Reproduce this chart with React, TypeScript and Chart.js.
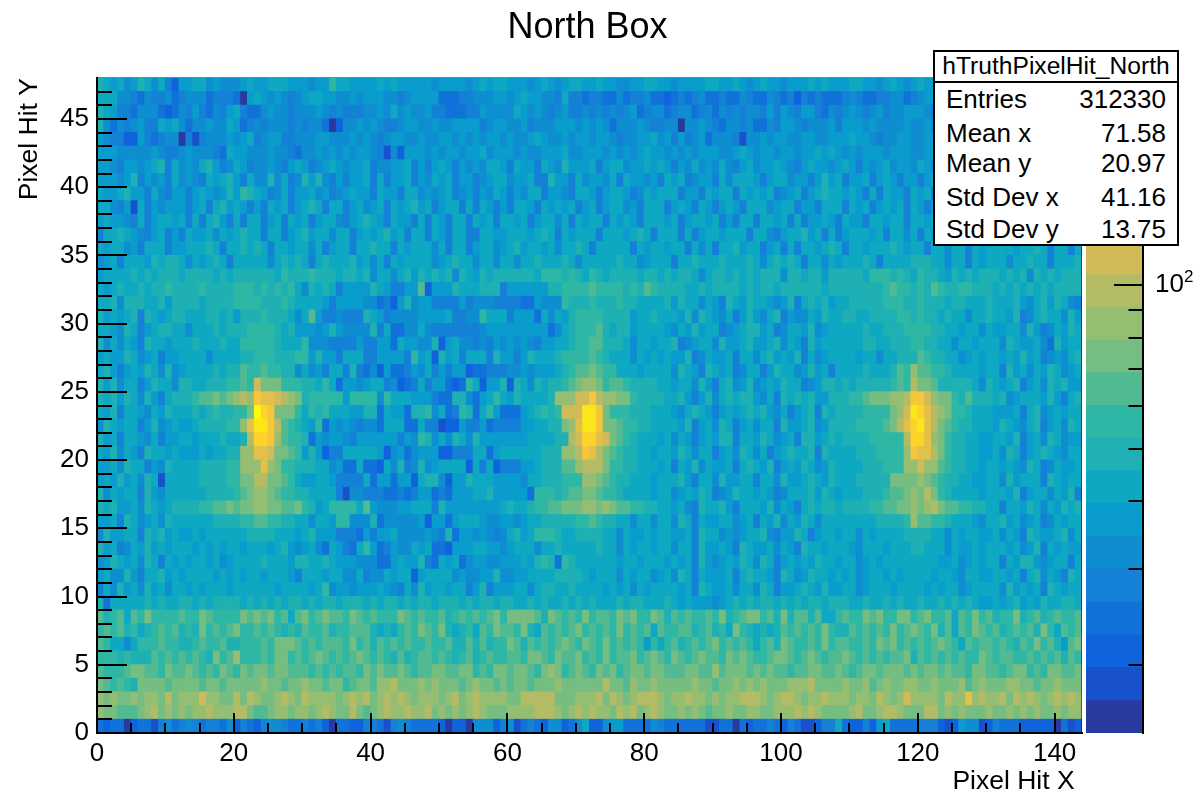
import React, { useEffect, useRef } from "react";
import { Chart, registerables } from "chart.js";

Chart.register(...registerables);

const FONT = '"Liberation Sans", Arial, sans-serif';

const titleText = "North Box";
const xTitle = "Pixel Hit X ";
const yTitle = "Pixel Hit Y";
const xMinorTicks = [5, 10, 15, 25, 30, 35, 45, 50, 55, 65, 70, 75, 85, 90, 95, 105, 110, 115, 125, 130, 135];
const xMajorTicks = [20, 40, 60, 80, 100, 120, 140];
const yMajorTicks = [5, 10, 15, 20, 25, 30, 35, 40, 45];
const yMinorTicks = [1, 2, 3, 4, 6, 7, 8, 9, 11, 12, 13, 14, 16, 17, 18, 19, 21, 22, 23, 24, 26, 27, 28, 29, 31, 32, 33, 34, 36, 37, 38, 39, 41, 42, 43, 44, 46, 47];

const statsName = "hTruthPixelHit_North";
const statsLabels = ["Entries", "Mean x", "Mean y", "Std Dev x", "Std Dev y"];
const statsValues = ["312330", "71.58", "20.97", "41.16", "13.75"];
const statsCenters = [99, 133, 163, 197, 229];

const palette = ["#283aa0", "#1752cc", "#0f63dc", "#1172d9", "#1480d6", "#0e8ed1", "#099ccc", "#0ea8c2", "#1eb0b2", "#2eb7a4", "#52ba92", "#75bd80", "#96be72", "#b3bc65", "#d1bb59", "#e3c049", "#f5c63a", "#fdd32a", "#fbe719", "#f9fb0e"];
const barEdges = [15, 17.2, 19.8, 22.7, 26.1, 30, 34.5, 39.6, 45.5, 52.2, 60, 68.9, 79.2, 90.9, 104.4, 120, 137.8, 158.3, 181.9, 208.9, 240];
const barMinorTicks = [20, 30, 40, 50, 60, 70, 80, 90, 200];
const barMajorTicks = [100];
const barExponent = "2";

// colour level of each cell in base 20, from the top row (y 47) down to the bottom row (y 0)
const cellRows = [
  "876756875742 667756555676 677766656697 766667676666 656666567677 666567656776 676655667766 566667766765 676656667676 667766567656 766576667656 665766766776",
  "777554354453 455534443067 656545677665 565666554566 663334455566 567665547443 443353445332 343453343354 335434243433 345433445534 566557665465 656655666556",
  "876443555323 546435467433 565545556545 444556575655 644333446555 576565456445 454545634553 455345354545 546465466435 456545645566 654556566546 566655657665",
  "853545644767 535565576345 455545455302 556565445665 565566664566 556455566656 565355565445 505565435545 335466545556 466656555565 565565565466 665465766566",
  "654422643455 041455565674 566445556655 565654566556 556656565665 655676556566 566545566756 464563555415 565665566556 667665455665 566756565565 656566557666",
  "666555556544 565554376655 565543556565 656654152666 565665667566 656556667556 665656567665 656566655676 566566566767 656566656665 566567665665 665566656576",
  "665466567847 565786457645 565467645676 566745566746 467646565776 476647658666 746775667676 465756575467 566765467665 676465675665 765674665766 646675666757",
  "666568465647 565476786475 585745868546 466747466746 576746645677 566744866475 665747665647 674566475777 646775664686 746674676466 467645776746 665476746677",
  "766786647546 646765686987 645746675645 676647664775 656745646576 465774665477 646776457677 746647677476 767456746787 767647476647 674677466756 765674677646",
  "775461746566 646747867646 476746787477 467567476786 746774747646 477647676746 746775647774 676476467647 775677466477 747674676747 646774767477 776477476747",
  "676654746776 747478647477 467476746775 467876476647 476477476747 767467757476 774767647776 746776746477 477674746676 476647767747 767477746747 477667747476",
  "477876546746 476675767877 477467867757 746767867477 476477447766 777678747677 747776787477 747467767774 775467786747 467776747757 476747757676 747746776747",
  "767756477746 677787477878 747767757467 747787747677 757477467756 786776757787 477777476776 774757477867 746747477678 747767778767 747757747677 776778747747",
  "567477768788 757678747777 757878747877 786757476777 756787757757 757787778757 777787756777 477877787778 757878747757 677787477778 887757747677 757787747778",
  "677778787888 788887878888 887988898887 887857757868 787858768788 888879998987 987888878878 788757887878 788858878868 888879998987 988768787888 787858787888",
  "767877878898 888988889998 989897587874 66668764466a 266687778884 666666889999 a9999898a988 887787888878 788788888878 88888889a998 98a988998887 878787878888",
  "778588877868 888788889999 888987777646 666553426856 644446455544 443365559888 988898877778 687757648768 776568478786 778888899988 988878877787 778657868754",
  "867678487678 877788786888 9888757a6445 444876455556 666744559777 466637576899 998888677877 768587657468 657846557687 788778888998 988787757787 768457877586",
  "776587467887 757778788899 998786665686 555584733557 544444445666 666666357899 9a8788677776 576867745678 867457768567 777787788899 998877677576 677586457687",
  "857576487767 778777877999 998777955544 446446637665 582675545465 656546677899 aa8887577677 845677586678 667857648677 777788778889 988775776777 587667538677",
  "676687567466 777757777889 998889968664 777446666496 728674777486 646877789999 a98777576767 668457667477 578676847567 777677577888 a98877567677 676867456578",
  "786467687585 677778788a99 a99885756477 484352633465 746466233444 5565666789aa ba9977767777 587648767457 746877568674 777787778a9c aa9987777677 486757687567",
  "868577468775 887788899a9e bbb999887973 665677452347 466323972668 287587889abc cb9aa9888877 677586478568 567687745688 787888889a9d bba888887587 678467587866",
  "878687586478 889aababcdcg ffedcb899999 699995977766 643388536797 6877778cccee gdccbb988887 786468578788 657487878668 8899abbbccdg gecbb98a8887 856777686478",
  "768477657687 7787898899bj hgbbb9798977 766883766388 957349837963 33678989eeei igb999888777 657876467678 786574678487 88889999bcei hfdcb9987776 667478567677",
  "587677468567 667888899cfi igda98769365 654553777337 441226446344 44667788bcfi igbba9988777 768467587467 577486678568 8889999abdfh ifdba9887776 876578467587",
  "867477657466 7767778778dh hgca99836566 546666664659 857587586666 666777788deh hfeba9877767 576467688477 687567488678 7888899999dh hfcb98877667 768467587566",
  "768576487767 666767788ccf febba9686244 777776256356 662244477367 77777888ccdg fdba98877677 687577467587 574678778487 7778889999cg ffdb98877667 587467876577",
  "667587746587 777888899ccc fcb998887756 337332758458 567777274724 44667888aacd ddb998877767 476857667478 768467687568 7777888999cc ecca98877677 676587457667",
  "676867587177 777888899bbd dbba97667764 444736636627 885266877766 66577888999c cba988777677 786477586677 477586678768 77788888bbbb cba988776677 586777487677",
  "857677486577 777788889abc cba998877774 155444334346 634366677866 666399989aab ba9987777677 567687456877 676457778687 67778889aabc bdb987777677 768467757684",
  "878667587678 88899aababbc cbbaab986799 997a65556677 748666666667 877899aabbbc cbcbaa998877 675487786477 768576478788 7888899aabbc bcdbaa998877 477687576878",
  "667487567587 77777888899a a99887757769 955583555556 266367776556 656778888899 a98877577577 587476677567 476857687577 77777788889c aa9987776577 867567457677",
  "586677487867 667677777788 887776786664 443646675555 654836656545 786799987788 887757667677 667487756567 785466874677 677576777788 887757677667 576487667857",
  "867457686767 776767677677 767865675376 437963465576 733266677665 677757787777 787757677677 577486676487 667576487767 776577767778 877757667677 767568476766",
  "568767587476 767767567777 877768877876 665553367668 437673566556 667689839877 777767767776 767486567687 587467676877 677567677777 777667567677 476886567747",
  "675586477867 677776767677 677764777677 557455767726 777756556685 566777788887 677757677567 587476667478 776487568776 767567767677 776776577667 767478576487",
  "475867586757 767677767777 776777767956 656667654758 677677468466 677578877877 776767576777 767487667577 587466787686 677567776777 767677567777 586767487677",
  "837777787877 887878888787 878788787887 888787887878 878887878878 877878778787 877787887778 767666567878 788787878878 887787787877 877878787667 678676877887",
  "a89a7a9b9999 a99ba9999bab ab9a7ab9abaa 9ba9a999ba9a 99a89a9a9ab9 bbbba8ba9a9b 9aa9bab99ba8 a9a99a9b89ab b9a8b8aa8a77 9a99bab99bb9 ab99a7a9b9a8 99b89a89a99a",
  "9a9a89789a9a 898b9a9ab99a 9a9898a99a89 9aaa87879a9b a9b87897a9ba a9b87a9a9ab9 a9a9b9a9a7a9 9aa89a897b98 7878a9a9a9b9 88a9a9a9b9ab a9b8a7a9ba9a 89a9a8b97a9a",
  "a97757999a99 889a99a88999 a9bbba9a9aaa 9b9a8a9a9a99 a99a88a8a899 ba8a9a9aba9b a9b9a9a96979 a89a9ab9a9a9 79a8ba99a9b9 aa99a9bab9a9 a9aba97a9aa9 a98a9b9a86ab",
  "99989888a9a9 a9a98b9ac999 a9bb9a9aba9a 9aba9a98a89a a9a989a89a99 aa9bba9baab9 a9b9aab9aba9 ba9abaa9baba 99abba9aba9a aba9a9a9aab8 a9a9a9a99ba9 aa99a9a9a8a9",
  "a999abbaa9ba aba9a9ba9bab babbaaa9a9a9 aa9babaaba9a abbaabb9a9bb abba9bcb9aba 9bab9abbabba aabbaacabbba babaa9aabbaa ba9abbabbbab abbabaa9bbaa 9abb9a9bbaab",
  "ba9a98bbbbab bbbabbabbbbb cbbabbcbbabb 9abbaccdbbbc bcbbbabcbbab abbabbbcbbbb bbdbbacbbcbb bbbcbbabbcbc bcbbbcccdbbb bcbbcabcbbcc bbcbbbcabcbb bccbbabbcbbb",
  "cbcbbcbccbdb ccceccbbdbdc bbcdcbdccccb cdcdbcdcdcbc ccbcdbcdcccc bbdddddbbbcc cdbdcbcdddcb ccdccbcbccdd dcbcddcbccdc ccbccbdcbcec cccbdccfcdcc dbdcdcbcdcdc",
  "cbbaaabcdbcb cbccdcccddba abccbccbcdcb bdbabcdccdcc dbcbcbcdcbbb ccccdddcbcdc dccbdcdbcdcb bcbcbabbcbbc cbbcccdcdcbb bbcdbbcddcbb bddbcbcbbbcb bcbcbcbbcbcc",
  "323302331453 454344352432 455433434203 322443145433 332022055524 513432552357 225663333543 333331133032 334324311244 732242673333 444212655124 333222220312",
];

const COLS = 144;
const ROWS = cellRows.length;
const colCenters = Array.from({ length: COLS }, (_, c) => c + 0.5);

const afterDrawPlugin = (id: string, draw: (chart: any, ctx: CanvasRenderingContext2D) => void) => ({
  id,
  afterDatasetsDraw(chart: any) {
    const ctx = chart.ctx as CanvasRenderingContext2D;
    ctx.save();
    draw(chart, ctx);
    ctx.restore();
  },
});

const rowColors = (row: string) => {
  const cells = row.replace(/ /g, "");
  return colCenters.map((_, c) => palette[parseInt(cells[c] ?? "7", 20)]);
};

export default function App() {
  const mainRef = useRef<HTMLCanvasElement>(null);
  const barRef = useRef<HTMLCanvasElement>(null);

  useEffect(() => {
    const bottomUp = [...cellRows].reverse();
    const main = new Chart(mainRef.current!, {
      type: "bar",
      data: {
        datasets: bottomUp.map((row, r) => ({
          label: `y${r}`,
          data: colCenters.map((x) => ({ x, y: 1 })),
          backgroundColor: rowColors(row),
          borderWidth: 0,
          barPercentage: 1,
          categoryPercentage: 1,
          inflateAmount: 0.5,
        })),
      },
      options: {
        responsive: false,
        animation: false,
        events: [],
        plugins: {
          legend: { display: false },
          tooltip: { enabled: false },
          title: {
            display: true,
            text: titleText,
            color: "#000",
            font: { family: FONT, size: 36, weight: "normal" },
            padding: { top: 6, bottom: 28.8 },
          },
        },
        scales: {
          x: {
            type: "linear",
            stacked: true,
            offset: false,
            min: 0,
            max: COLS,
            grid: { display: false, drawTicks: false, offset: false },
            border: { color: "#000", width: 2, z: 2 },
            afterFit: (s: any) => { s.height = 59; },
            ticks: {
              stepSize: 20,
              includeBounds: false,
              maxRotation: 0,
              padding: 5,
              color: "#000",
              font: { family: FONT, size: 26 },
            },
            title: {
              display: true,
              text: xTitle,
              align: "end",
              color: "#000",
              padding: { top: 0, bottom: -6 },
              font: { family: FONT, size: 26.5 },
            },
          },
          y: {
            type: "linear",
            stacked: true,
            min: 0,
            max: ROWS,
            grid: { display: false, drawTicks: false },
            border: { color: "#000", width: 2, z: 2 },
            afterFit: (s: any) => { s.width = 97; },
            ticks: {
              stepSize: 5,
              includeBounds: false,
              padding: 8,
              color: "#000",
              font: { family: FONT, size: 26 },
            },
            title: {
              display: true,
              text: yTitle,
              align: "end",
              color: "#000",
              padding: { top: 14, bottom: 0 },
              font: { family: FONT, size: 26.5 },
            },
          },
          rightGap: {
            type: "linear",
            position: "right",
            display: true,
            grid: { display: false, drawTicks: false },
            border: { display: false },
            ticks: { display: false },
            afterFit: (s: any) => { s.width = 93; },
          },
        },
      },
      plugins: [
        afterDrawPlugin("rootTicks", (chart, ctx) => {
          const { x, y } = chart.scales;
          const { left, right, top, bottom } = chart.chartArea;
          ctx.strokeStyle = "#000";
          ctx.lineWidth = 2;
          ctx.beginPath();
          const vt = (list: number[], len: number) => list.forEach((v) => {
            const px = Math.round(x.getPixelForValue(v));
            ctx.moveTo(px, bottom);
            ctx.lineTo(px, bottom - len);
          });
          const ht = (list: number[], len: number) => list.forEach((v) => {
            const py = Math.round(y.getPixelForValue(v));
            ctx.moveTo(left, py);
            ctx.lineTo(left + len, py);
          });
          vt(xMinorTicks, 10);
          vt(xMajorTicks, 20);
          ht(yMinorTicks, 15);
          ht(yMajorTicks, 30);
          ctx.stroke();
          ctx.strokeStyle = "rgba(0,0,0,0.5)";
          ctx.lineWidth = 1;
          ctx.beginPath();
          ctx.moveTo(left, top - 0.5);
          ctx.lineTo(right, top - 0.5);
          ctx.moveTo(right - 0.5, top);
          ctx.lineTo(right - 0.5, bottom);
          ctx.stroke();
        }),
      ],
    } as any);

    const bar = new Chart(barRef.current!, {
      type: "bar",
      data: {
        labels: ["scale"],
        datasets: palette.map((color, i) => ({
          label: `level ${i}`,
          data: [[barEdges[i], barEdges[i + 1]]],
          backgroundColor: color,
          borderWidth: 0,
          barPercentage: 1,
          categoryPercentage: 1,
          inflateAmount: 0.5,
        })),
      },
      options: {
        responsive: false,
        animation: false,
        events: [],
        layout: { padding: { left: 2, right: 0, top: 78, bottom: 59 } },
        plugins: { legend: { display: false }, tooltip: { enabled: false }, title: { display: false } },
        scales: {
          x: { display: false, stacked: true },
          y: {
            type: "logarithmic",
            position: "right",
            min: barEdges[0],
            max: barEdges[barEdges.length - 1],
            grid: { display: false, drawTicks: false },
            border: { color: "#000", width: 2, z: 2 },
            afterFit: (s: any) => { s.width = 58; },
            afterBuildTicks: (s: any) => { s.ticks = barMajorTicks.map((value) => ({ value, major: true })); },
            ticks: {
              autoSkip: false,
              padding: 12,
              color: "#000",
              font: { family: FONT, size: 26 },
              callback: (v: any) => (v === 100 ? "10" : ""),
            },
          },
        },
      },
      plugins: [
        afterDrawPlugin("barTicks", (chart, ctx) => {
          const { y } = chart.scales;
          const { right } = chart.chartArea;
          ctx.strokeStyle = "#000";
          ctx.lineWidth = 2;
          ctx.beginPath();
          const mark = (list: number[], len: number) => list.forEach((v) => {
            const py = Math.round(y.getPixelForValue(v));
            ctx.moveTo(right, py);
            ctx.lineTo(right - len, py);
          });
          mark(barMinorTicks, 14.5);
          mark(barMajorTicks, 29);
          ctx.stroke();
          ctx.fillStyle = "#000";
          ctx.font = `17px ${FONT}`;
          ctx.textBaseline = "middle";
          ctx.textAlign = "left";
          ctx.fillText(barExponent, right + 41, y.getPixelForValue(100) - 8);
        }),
      ],
    } as any);

    return () => {
      main.destroy();
      bar.destroy();
    };
  }, []);

  const rowStyle = (center: number): React.CSSProperties => ({
    position: "absolute",
    left: 946,
    width: 220,
    top: center - 15,
    height: 30,
    lineHeight: "30px",
    display: "flex",
    justifyContent: "space-between",
  });

  return (
    <div style={{ position: "absolute", left: 0, top: 0, width: 1201, height: 792, background: "#fff", overflow: "hidden", fontFamily: FONT, fontSize: 26, color: "#000" }}>
      <canvas ref={mainRef} width={1175} height={792} style={{ position: "absolute", left: 0, top: 0 }} />
      <canvas ref={barRef} width={117} height={792} style={{ position: "absolute", left: 1084, top: 0 }} />
      <div style={{ position: "absolute", left: 933, top: 50, width: 246, height: 196, boxSizing: "border-box", border: "2px solid #000", background: "#fff" }} />
      <div style={{ position: "absolute", left: 933, top: 81, width: 246, height: 2, background: "#000" }} />
      <div style={{ position: "absolute", left: 933, width: 246, top: 50, height: 32, lineHeight: "31px", textAlign: "center", fontSize: 24.6 }}>{statsName}</div>
      {statsLabels.map((label, i) => (
        <div key={label} style={rowStyle(statsCenters[i])}>
          <span>{label}</span>
          <span>{statsValues[i]}</span>
        </div>
      ))}
    </div>
  );
}
